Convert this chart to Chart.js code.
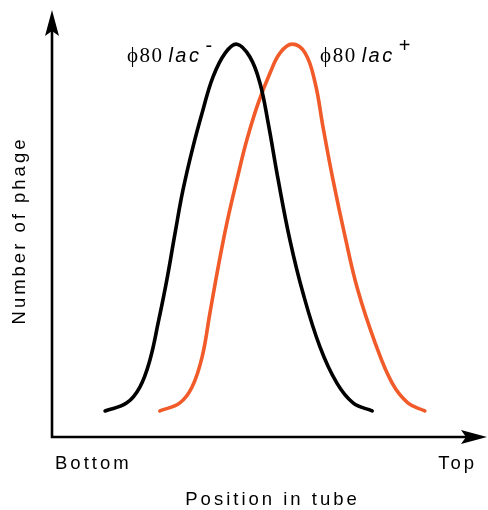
<!DOCTYPE html>
<html lang="en">
<head>
  <meta charset="utf-8">
  <title>Phage position in tube</title>
  <style>
    * { margin: 0; padding: 0; }
    body { background: #fff; }
    #wrap { position: relative; width: 488px; height: 510px; }
  </style>
</head>
<body>
  <div id="wrap"><canvas id="phageChart"></canvas></div>

  <script src="https://cdn.jsdelivr.net/npm/chart.js@4.4.1/dist/chart.umd.min.js"></script>
  <script>
    // position in tube (0 = bottom, 100 = top) and number of phage, arbitrary units
    const lacMinusX = [12.2, 17.2, 20.2, 22.5, 24.4, 26.4, 28.3, 30.1, 32.4, 34.7, 37.0, 39.8, 42.5, 45.5, 47.8, 49.7, 52.0, 54.7, 57.7, 61.6, 65.5, 69.2, 73.6];
    const lacMinusY = [6.1, 8.0, 11.7, 18.0, 26.7, 36.8, 47.8, 57.8, 67.9, 76.6, 84.3, 89.9, 92.0, 89.0, 82.9, 73.5, 60.2, 46.1, 33.7, 21.1, 12.6, 8.0, 6.1];
    const lacPlusX = [24.8, 29.4, 32.2, 34.5, 36.3, 38.2, 40.2, 42.5, 44.8, 47.4, 50.1, 52.4, 55.2, 58.2, 60.5, 62.3, 64.6, 67.4, 70.3, 74.3, 78.2, 81.8, 85.7];
    const lacPlusY = [6.1, 8.0, 11.7, 18.7, 29.0, 39.8, 50.1, 60.2, 69.6, 78.2, 85.2, 89.9, 92.0, 89.9, 82.9, 72.6, 60.2, 46.8, 34.4, 22.0, 12.6, 8.0, 6.1];
    const seriesNames = ['lac-', 'lac+'];
    const tickLabels = ['Bottom', 'Top'];
    const xTitle = 'Position in tube';
    const yTitle = 'Number of phage';

    const toPoints = (xs, ys) => xs.map((x, i) => ({ x: x, y: ys[i] }));

    function arrow(ctx, tx, ty, dx, dy) {
      // dx,dy = unit direction of the arrow
      const len = 26, half = 7, notch = 5;
      const bx = tx - dx * len, by = ty - dy * len;
      const nx = -dy, ny = dx;
      ctx.beginPath();
      ctx.moveTo(tx, ty);
      ctx.lineTo(bx + nx * half, by + ny * half);
      ctx.lineTo(tx - dx * (len - notch), ty - dy * (len - notch));
      ctx.lineTo(bx - nx * half, by - ny * half);
      ctx.closePath();
      ctx.fill();
    }

    function seriesLabel(ctx, left, base, sup) {
      ctx.font = '21px "Liberation Serif"';
      ctx.letterSpacing = '1.5px';
      ctx.fillText('\u03d580', left, base);
      let x = left + ctx.measureText('\u03d580').width + 5;
      ctx.font = 'italic 20px "Liberation Sans"';
      ctx.letterSpacing = '2.5px';
      ctx.fillText('lac', x, base);
      x += ctx.measureText('lac').width + 4;
      ctx.font = '20px "Liberation Sans"';
      ctx.letterSpacing = '0px';
      ctx.fillText(sup, x, base - 10);
    }

    const axesPlugin = {
      id: 'axesPlugin',
      afterDraw(chart) {
        const ctx = chart.ctx;
        const xs = chart.scales.x, ys = chart.scales.y;
        const x0 = xs.getPixelForValue(0), xEnd = xs.getPixelForValue(100);
        const y0 = ys.getPixelForValue(0), yEnd = ys.getPixelForValue(100);
        ctx.save();
        ctx.strokeStyle = '#000';
        ctx.fillStyle = '#000';
        ctx.lineWidth = 2.6;
        ctx.beginPath();
        ctx.moveTo(x0, yEnd + 20);
        ctx.lineTo(x0, y0);
        ctx.lineTo(xEnd - 20, y0);
        ctx.stroke();
        arrow(ctx, x0, yEnd, 0, -1);
        arrow(ctx, xEnd, y0, 1, 0);

        ctx.font = '18.5px "Liberation Sans"';
        ctx.letterSpacing = '3px';
        ctx.textBaseline = 'alphabetic';
        ctx.textAlign = 'left';
        ctx.fillText(tickLabels[0], x0 + 3, y0 + 32);
        ctx.textAlign = 'right';
        ctx.fillText(tickLabels[1], xEnd - 10, y0 + 32);
        ctx.textAlign = 'center';
        ctx.fillText(xTitle, (x0 + xEnd) / 2 + 3, y0 + 68);

        ctx.save();
        ctx.translate(x0 - 27, (y0 + yEnd) / 2 + 7);
        ctx.rotate(-Math.PI / 2);
        ctx.fillText(yTitle, 0, 0);
        ctx.restore();

        // series labels beside the peaks
        ctx.textAlign = 'left';
        const pk1 = chart.getDatasetMeta(0).data[12];
        const pk2 = chart.getDatasetMeta(1).data[12];
        seriesLabel(ctx, pk1.x - 110, pk1.y + 18, '-');
        seriesLabel(ctx, pk2.x + 28, pk2.y + 18, '+');
        ctx.restore();
      }
    };

    new Chart(document.getElementById('phageChart'), {
      type: 'scatter',
      data: {
        datasets: [
          {
            label: seriesNames[0],
            data: toPoints(lacMinusX, lacMinusY),
            borderColor: '#000000',
          },
          {
            label: seriesNames[1],
            data: toPoints(lacPlusX, lacPlusY),
            borderColor: '#f15a29',
          },
        ],
      },
      options: {
        responsive: true,
        maintainAspectRatio: false,
        animation: false,
        layout: { padding: { left: 52, right: 1, top: 10, bottom: 73 } },
        elements: {
          point: { radius: 0, hoverRadius: 0 },
          line: { borderWidth: 3.6, borderCapStyle: 'round', borderJoinStyle: 'round', tension: 0.4 },
        },
        datasets: { scatter: { showLine: true, clip: false } },
        scales: {
          x: { type: 'linear', min: 0, max: 100, display: false },
          y: { type: 'linear', min: 0, max: 100, display: false },
        },
        plugins: { legend: { display: false }, tooltip: { enabled: false } },
      },
      plugins: [axesPlugin],
    });
  </script>
</body>
</html>
